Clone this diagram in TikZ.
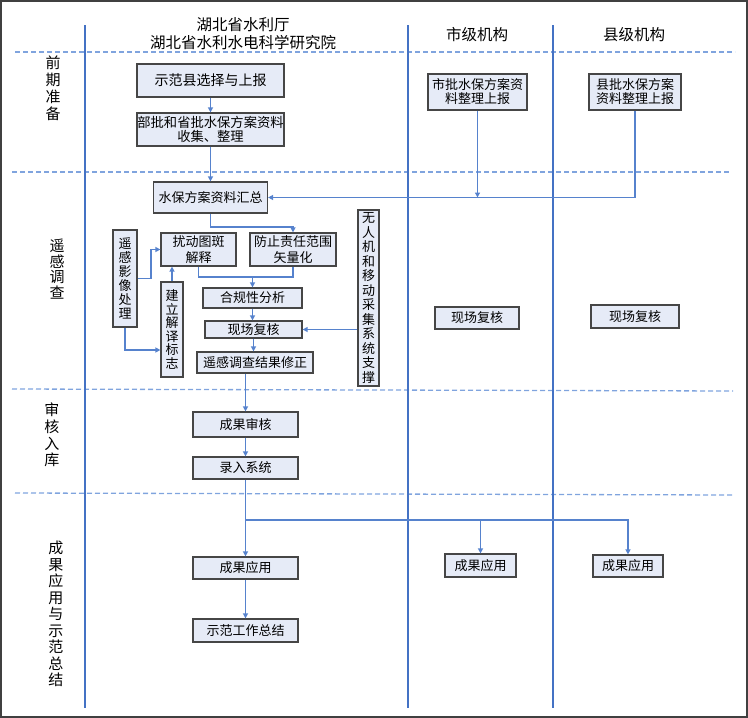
\documentclass[tikz,border=0pt]{standalone}
\usepackage{fontspec}
\setmainfont{Noto Sans CJK SC}
\usetikzlibrary{arrows.meta}
\definecolor{boxfill}{RGB}{230,235,247}
\definecolor{boxline}{RGB}{70,70,70}
\definecolor{lanecol}{RGB}{68,114,196}
\definecolor{conncol}{RGB}{86,130,205}
\definecolor{sepcol}{RGB}{128,164,222}
\tikzset{
  box/.style={draw=boxline, line width=1.2pt, fill=boxfill, inner sep=0pt, align=center,
    font=\fontsize{13}{14}\selectfont},
  conn/.style={draw=conncol, line width=1.3pt},
  arr/.style={conn, -{Triangle[length=5pt,width=5pt]}},
  lane/.style={draw=lanecol, line width=2.6pt},
  sep/.style={draw=sepcol, line width=1.3pt, dash pattern=on 5pt off 3pt},
  head/.style={align=center, inner sep=0pt, font=\fontsize{15.5}{18}\selectfont},
  lanelab/.style={align=center, inner sep=0pt},
}
\begin{document}
\begin{tikzpicture}[x=1pt,y=-1pt]
\useasboundingbox (0,0) rectangle (748,718);
\draw[black!75, line width=1.2pt] (1,1) rectangle (747,717);

% separators
\draw[sep] (15,52) -- (735,52);
\draw[sep] (12,172) -- (731,172);
\draw[sep] (12,389) -- (733,391);
\draw[sep] (15,493) -- (733,495);

% lane lines
\draw[lane] (85,25) -- (85,708);
\draw[lane] (408,25) -- (408,708);
\draw[lane] (553,25) -- (553,708);

% headers
\node[head] (h1) at (243,34) {湖北省水利厅\\湖北省水利水电科学研究院};
\node[head] (h2) at (477,35) {市级机构};
\node[head] (h3) at (634,35) {县级机构};

% lane labels
\node[lanelab, font=\fontsize{15}{17}\selectfont] (l1) at (53,88) {前\\期\\准\\备};
\node[lanelab, font=\fontsize{15}{15.5}\selectfont] (l2) at (57,269) {遥\\感\\调\\查};
\node[lanelab, font=\fontsize{15}{16.7}\selectfont] (l3) at (52,435) {审\\核\\入\\库};
\node[lanelab, font=\fontsize{15}{16.5}\selectfont] (l4) at (56,614) {成\\果\\应\\用\\与\\示\\范\\总\\结};

% lane 1 boxes
\node[box, minimum width=147pt, minimum height=33pt, font=\fontsize{14}{15}\selectfont] (n1) at (210.5,80.5) {示范县选择与上报};
\node[box, minimum width=147pt, minimum height=33pt, font=\fontsize{13.3}{13.5}\selectfont] (n2) at (210.5,129.5) {部批和省批水保方案资料\\收集、整理};
\node[box, minimum width=114pt, minimum height=31pt] (hz) at (210.5,197.5) {水保方案资料汇总};
\node[box, minimum width=24pt, minimum height=97pt] (yx) at (125,278.5) {遥\\感\\影\\像\\处\\理};
\node[box, minimum width=75pt, minimum height=33pt, font=\fontsize{13}{15.5}\selectfont] (rd) at (198.5,249.5) {扰动图斑\\解释};
\node[box, minimum width=86pt, minimum height=33pt, font=\fontsize{13}{15.5}\selectfont] (fz) at (293,249.5) {防止责任范围\\矢量化};
\node[box, minimum width=22pt, minimum height=95pt, font=\fontsize{13}{13.5}\selectfont] (jl) at (172,329.5) {建\\立\\解\\译\\标\\志};
\node[box, minimum width=99pt, minimum height=20pt] (hg) at (252.5,298) {合规性分析};
\node[box, minimum width=97pt, minimum height=17pt] (xc) at (253.5,329.5) {现场复核};
\node[box, minimum width=116pt, minimum height=21pt] (xz) at (255,362.5) {遥感调查结果修正};
\node[box, minimum width=21pt, minimum height=176pt, font=\fontsize{13}{14.5}\selectfont] (wr) at (368.5,298) {无\\人\\机\\和\\移\\动\\采\\集\\系\\统\\支\\撑};
\node[box, minimum width=105pt, minimum height=25pt] (cg) at (245.5,424.5) {成果审核};
\node[box, minimum width=105pt, minimum height=22pt] (lr) at (245.5,468) {录入系统};
\node[box, minimum width=105pt, minimum height=22pt] (ya) at (245.5,568) {成果应用};
\node[box, minimum width=105pt, minimum height=23pt] (zj) at (245.5,630.5) {示范工作总结};

% lane 2 / 3 boxes
\node[box, minimum width=99pt, minimum height=36pt] (sp) at (477.5,92) {市批水保方案资\\料整理上报};
\node[box, minimum width=92pt, minimum height=36pt] (xp) at (635,92) {县批水保方案\\资料整理上报};
\node[box, minimum width=84pt, minimum height=22pt] (sx) at (477,318) {现场复核};
\node[box, minimum width=88pt, minimum height=23pt] (xx) at (635,316.5) {现场复核};
\node[box, minimum width=71pt, minimum height=23pt] (sy) at (480.5,565.5) {成果应用};
\node[box, minimum width=70pt, minimum height=22pt] (xy) at (628,566) {成果应用};

% connectors
\draw[arr] (n1) -- (n2);
\draw[arr] (n2) -- (hz);
\draw[arr] (xp.south) |- (hz.east);
\draw[arr] (sp.south) -- (sp.south |- hz.east);
\draw[arr] (hz.south) -- (210.5,227) -| (fz.north);
\draw[arr] (yx.east) -- (151,278.5) |- (rd.west);
\draw[arr] (yx.south) |- (jl.west |- 0,350);
\draw[arr] (jl.north) -- (jl.north |- rd.south);
\coordinate (j1) at (252.5,277);
\draw[conn] (rd.south) |- (j1);
\draw[conn] (fz.south) |- (j1);
\draw[arr] (j1) -- (hg.north);
\draw[arr] (hg.south) -- (hg.south |- xc.north);
\draw[arr] (xc.south) -- (xc.south |- xz.north);
\draw[arr] (wr.west |- xc.east) -- (xc.east);
\draw[arr] (cg.north |- xz.south) -- (cg.north);
\draw[arr] (cg) -- (lr);
\draw[arr] (lr) -- (ya);
\coordinate (b0) at (245.5,520);
\coordinate (b1) at (480.5,520);
\draw[conn] (b0) -- (b1);
\draw[arr] (b1) -| (xy.north);
\draw[arr] (b1) -- (sy.north);
\draw[arr] (ya) -- (zj);
\end{tikzpicture}
\end{document}
